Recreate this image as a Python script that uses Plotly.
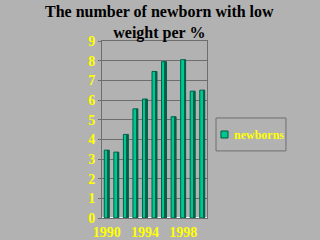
import plotly.graph_objects as go

years = [1990, 1991, 1992, 1993, 1994, 1995, 1996, 1997, 1998, 1999, 2000]
newborns = [3.45, 3.35, 4.25, 5.55, 6.05, 7.45, 7.95, 5.15, 8.05, 6.45, 6.5]
tick_years = [1990, 1994, 1998]
y_ticks = list(range(0, 10))

bg = "#B2B2B2"
front = "#00C690"
side = "#00614A"
serif = "Liberation Serif"

fig = go.Figure()
fig.add_trace(go.Bar(
    x=years, y=newborns, name="newborns",
    marker=dict(color=front, line=dict(color=side, width=1)),
    width=0.52, offset=-0.26, showlegend=False,
))
fig.add_trace(go.Bar(
    x=years, y=newborns, name="newborns side",
    marker=dict(color=side, line=dict(width=0)),
    width=0.17, offset=0.09, showlegend=False,
))
fig.update_layout(
    width=320, height=240,
    margin=dict(l=102, r=113, t=41, b=22, autoexpand=False),
    paper_bgcolor=bg, plot_bgcolor=bg,
    barmode="overlay",
    showlegend=False,
    annotations=[
        dict(text="The number of newborn with low<br>weight per %", xref="paper", yref="paper",
             x=0.55, y=1.225, xanchor="center", yanchor="top", showarrow=False, align="center",
             font=dict(family=serif, size=16, color="black", weight="bold")),
        dict(text="newborns", xref="paper", yref="paper", x=1.235, y=0.468,
             xanchor="left", yanchor="middle", showarrow=False,
             font=dict(family=serif, size=12, color="#FFFF00", weight="bold")),
    ],
    shapes=[
        dict(type="rect", xref="paper", yref="paper", x0=1.086, x1=1.752, y0=0.379, y1=0.565,
             line=dict(color="#6E6E6E", width=1), fillcolor=bg),
        dict(type="rect", xref="paper", yref="paper", x0=1.133, x1=1.2, y0=0.452, y1=0.4915,
             line=dict(color="#005A3C", width=1), fillcolor=front),
    ],
)
fig.update_xaxes(range=[1989.5, 2000.5], tickvals=tick_years, ticktext=[str(t) for t in tick_years],
                 tickfont=dict(family=serif, size=14, color="#FFFF00", weight="bold"),
                 showline=True, linecolor="#6E6E6E", mirror=True, showgrid=False,
                 ticks="", ticklabelstandoff=1, automargin=False)
fig.update_yaxes(range=[0, 9], tickvals=y_ticks, automargin=False,
                 tickfont=dict(family=serif, size=14, color="#FFFF00", weight="bold"),
                 showline=True, linecolor="#6E6E6E", mirror=True,
                 gridcolor="#6E6E6E", gridwidth=1, ticks="outside", ticklen=3, tickcolor="#6E6E6E")
fig.write_html("out.html")
